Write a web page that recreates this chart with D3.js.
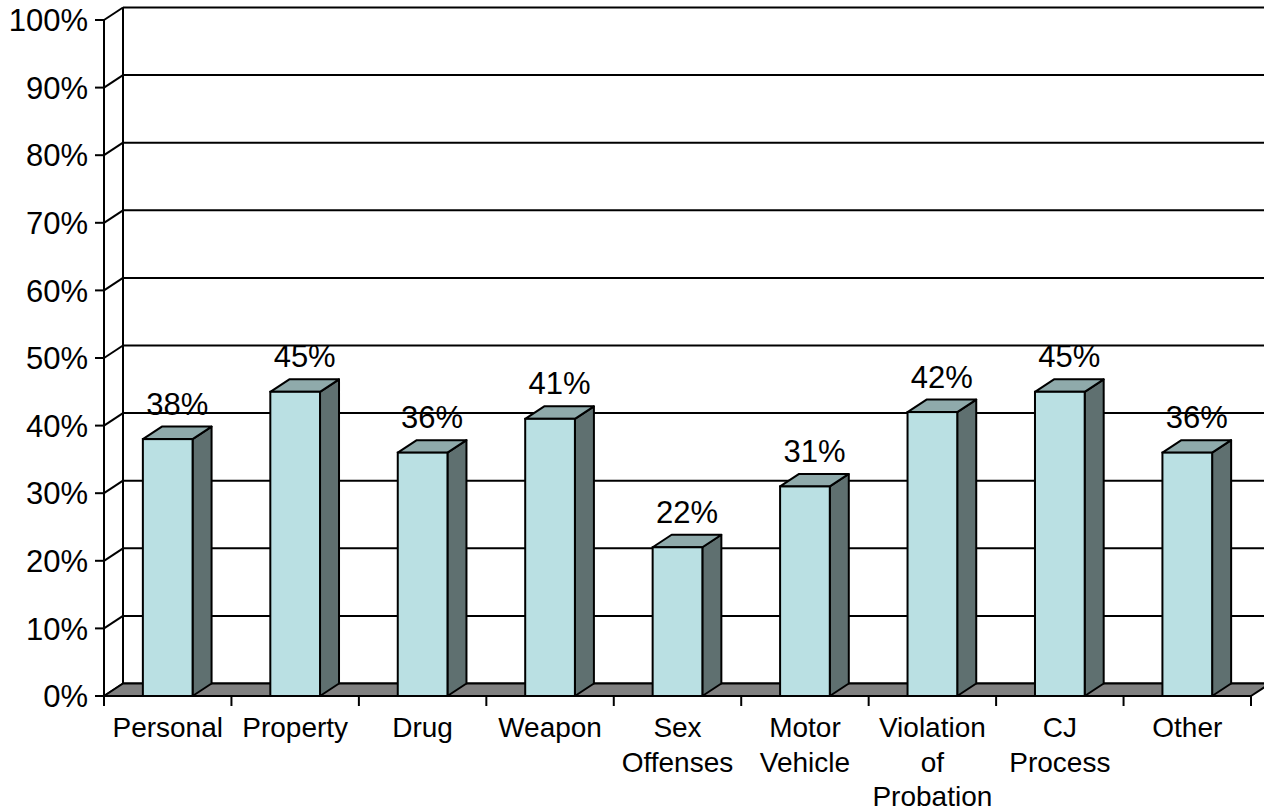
<!DOCTYPE html>
<html>
<head>
<meta charset="utf-8">
<script src="https://cdn.jsdelivr.net/npm/d3@7"></script>
<style>
  html, body { margin: 0; padding: 0; background: #fff; }
  svg { display: block; }
  text { font-family: "Liberation Sans", Arial, sans-serif; fill: #000; }
</style>
</head>
<body>
<svg id="chart" width="1264" height="810"></svg>
<script>
const categories = ["Personal", "Property", "Drug", "Weapon", "Sex Offenses", "Motor Vehicle", "Violation of Probation", "CJ Process", "Other"];
const categoryLines = [["Personal"], ["Property"], ["Drug"], ["Weapon"], ["Sex", "Offenses"], ["Motor", "Vehicle"], ["Violation", "of", "Probation"], ["CJ", "Process"], ["Other"]];
const values = [38, 45, 36, 41, 22, 31, 42, 45, 36];
const valueLabels = ["38%", "45%", "36%", "41%", "22%", "31%", "42%", "45%", "36%"];
const yTicks = [0, 10, 20, 30, 40, 50, 60, 70, 80, 90, 100];
const yTickLabels = ["0%", "10%", "20%", "30%", "40%", "50%", "60%", "70%", "80%", "90%", "100%"];

const svg = d3.select("#chart");
const plotLeft = 104, plotRight = 1251, plotTop = 20, plotBottom = 696;
const DX = 19, DY = -12.5;
const catFont = 28, numFont = 31;

const x = d3.scaleBand().domain(categories).range([plotLeft, plotRight]).paddingInner(0).paddingOuter(0);
const y = d3.scaleLinear().domain([0, 100]).range([plotBottom, plotTop]);

const barW = x.bandwidth() * 0.39;

// back wall gridlines
svg.append("g").selectAll("line").data(yTicks).join("line")
  .attr("x1", plotLeft + DX).attr("x2", 1290)
  .attr("y1", d => y(d) + DY).attr("y2", d => y(d) + DY)
  .attr("stroke", "#000").attr("stroke-width", 2);
// left wall diagonals
svg.append("g").selectAll("line").data(yTicks).join("line")
  .attr("x1", plotLeft).attr("x2", plotLeft + DX)
  .attr("y1", d => y(d)).attr("y2", d => y(d) + DY)
  .attr("stroke", "#000").attr("stroke-width", 2);
// left wall back vertical
svg.append("line")
  .attr("x1", plotLeft + DX).attr("x2", plotLeft + DX)
  .attr("y1", y(100) + DY).attr("y2", y(0) + DY)
  .attr("stroke", "#000").attr("stroke-width", 2);

// floor
svg.append("path")
  .attr("d", `M${plotLeft},${y(0)} L${plotRight},${y(0)} L${plotRight + DX},${y(0) + DY} L${plotLeft + DX},${y(0) + DY} Z`)
  .attr("fill", "#808080").attr("stroke", "#000").attr("stroke-width", 2).attr("stroke-linejoin", "round");

// bars
const bars = svg.append("g").selectAll("g").data(categories).join("g");
bars.each(function(c, i) {
  const g = d3.select(this);
  const x0 = x(c) + (x.bandwidth() - barW) / 2;
  const x1 = x0 + barW;
  const yTop = y(values[i]);
  const yBot = y(0);
  g.append("path")
    .attr("d", `M${x1},${yTop} L${x1 + DX},${yTop + DY} L${x1 + DX},${yBot + DY} L${x1},${yBot} Z`)
    .attr("fill", "#5f7070").attr("stroke", "#000").attr("stroke-width", 2).attr("stroke-linejoin", "round");
  g.append("path")
    .attr("d", `M${x0},${yTop} L${x1},${yTop} L${x1 + DX},${yTop + DY} L${x0 + DX},${yTop + DY} Z`)
    .attr("fill", "#8faaab").attr("stroke", "#000").attr("stroke-width", 2).attr("stroke-linejoin", "round");
  g.append("rect")
    .attr("x", x0).attr("y", yTop).attr("width", barW).attr("height", yBot - yTop)
    .attr("fill", "#bae0e3").attr("stroke", "#000").attr("stroke-width", 2);
  g.append("text")
    .attr("x", x0 + barW / 2 + DX / 2)
    .attr("y", yTop + DY - 12)
    .attr("text-anchor", "middle")
    .attr("font-size", numFont)
    .text(valueLabels[i]);
});

// front y axis
svg.append("line")
  .attr("x1", plotLeft).attr("x2", plotLeft).attr("y1", y(100)).attr("y2", y(0))
  .attr("stroke", "#000").attr("stroke-width", 2);
const yTickG = svg.append("g").selectAll("g").data(yTicks).join("g");
yTickG.append("line")
  .attr("x1", plotLeft - 9).attr("x2", plotLeft)
  .attr("y1", d => y(d)).attr("y2", d => y(d))
  .attr("stroke", "#000").attr("stroke-width", 2);
yTickG.append("text")
  .attr("x", 88).attr("y", d => y(d)).attr("dy", "0.36em")
  .attr("text-anchor", "end").attr("font-size", numFont)
  .text((d, i) => yTickLabels[i]);

// x axis
svg.append("line")
  .attr("x1", plotLeft).attr("x2", plotRight).attr("y1", y(0)).attr("y2", y(0))
  .attr("stroke", "#000").attr("stroke-width", 2);
const boundaries = categories.map(c => x(c)).concat([plotRight]);
svg.append("g").selectAll("line").data(boundaries).join("line")
  .attr("x1", d => d).attr("x2", d => d)
  .attr("y1", y(0)).attr("y2", y(0) + 10)
  .attr("stroke", "#000").attr("stroke-width", 2);
const xl = svg.append("g").selectAll("text").data(categories).join("text")
  .attr("x", d => x(d) + x.bandwidth() / 2)
  .attr("y", 737)
  .attr("text-anchor", "middle")
  .attr("font-size", catFont);
xl.each(function(c, i) {
  const t = d3.select(this);
  categoryLines[i].forEach((ln, j) => {
    t.append("tspan").attr("x", x(c) + x.bandwidth() / 2).attr("dy", j === 0 ? 0 : 34.5).text(ln);
  });
});
</script>
</body>
</html>
